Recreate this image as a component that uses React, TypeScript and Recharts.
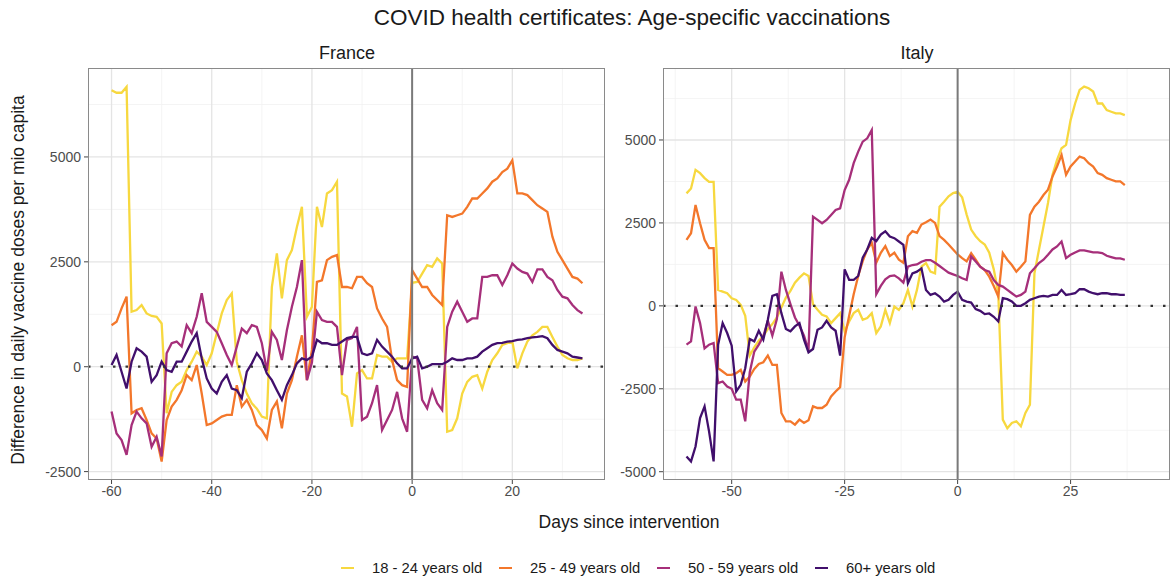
import React from 'react';
import { LineChart, Line, XAxis, YAxis, CartesianGrid, ReferenceLine } from 'recharts';

// France: days -60 .. 34
const FR_START = -60;
const FR_18_24 = [
  6590, 6530, 6530, 6670, 1310, 1350, 1470, 1270, 1210, 1190,
  1030, -1110, -600, -440, -360, -80, 120, 360, 240, 40,
  320, 800, 1270, 1590, 1750, 120, -320, -640, -870, -1000,
  -1190, -1230, 1900, 2700, 1630, 2540, 2780, 3330, 3810, 1190,
  1430, 3810, 3330, 4130, 4210, 4410, -640, -710, -1430, -160,
  -80, -280, -280, 280, 240, 240, 120, 200, 200, 200,
  2000, 2020, 2220, 2420, 2380, 2580, 2460, -1550, -1510, -1230,
  -640, -360, -240, -200, -520, -120, 160, 320, 520, 560,
  600, -40, 320, 600, 750, 830, 950, 950, 710, 480,
  280, 200, 160, 160, 200,
];
const FR_25_49 = [
  990, 1070, 1390, 1670, -1110, -1030, -990, -1270, -1590, -1710,
  -2260, -1270, -950, -790, -560, -200, -320, 40, -640, -1390,
  -1350, -1270, -1190, -1150, -1150, -440, -950, -790, -1030, -1390,
  -1510, -1710, -1030, -830, -1470, -640, -320, 240, 750, -320,
  400, 2020, 2060, 2540, 2620, 2660, 1900, 1900, 1870, 2140,
  2140, 1990, 1900, 1390, 1150, 950, 160, -320, -440, -480,
  2300, 2100, 1900, 1900, 1710, 1590, 1470, 3610, 3570, 3610,
  3650, 3810, 4010, 4010, 4130, 4250, 4410, 4490, 4640, 4720,
  4920, 4130, 4130, 4090, 3970, 3850, 3770, 3690, 3100, 2740,
  2540, 2340, 2140, 2100, 1990,
];
const FR_50_59 = [
  -1070, -1590, -1750, -2100, -1390, -1070, -1230, -1350, -1910, -1670,
  -2140, 320, 560, 600, 480, 990, 800, 1190, 1750, 1070,
  950, 830, 560, 280, 40, 480, 910, 800, 990, 950,
  560, -100, 830, 640, 160, 870, 1430, 1900, 2540, -320,
  100, 1310, 1110, 1070, 1070, 950, -200, 640, 680, 950,
  -1270, -1190, -870, -440, -1510, -1270, -1030, -600, -1230, -1550,
  240, 200, -790, -990, -560, -870, -1030, 950, 1310, 1550,
  1310, 1070, 1150, 1150, 2140, 2140, 2180, 2180, 1950, 2180,
  2460, 2340, 2260, 2220, 2020, 2320, 2320, 2140, 2060, 1830,
  1670, 1630, 1470, 1350, 1270,
];
const FR_60P = [
  40, 280, -120, -520, 120, 440, 360, 240, -360, -200,
  120, -80, -120, 120, 120, 360, 600, 800, 200, -280,
  -520, -640, -360, -200, -520, -560, -750, -120, 80, 320,
  160, -160, -320, -560, -790, -440, -200, 80, 200, 160,
  240, 640, 560, 560, 520, 520, 600, 680, 710, 710,
  320, 280, 320, 640, 480, 360, 240, 80, -40, -40,
  200, 240, -40, 0, 60, 60, 60, 120, 200, 160,
  160, 200, 200, 240, 360, 440, 520, 560, 570, 600,
  610, 640, 650, 680, 700, 710, 730, 680, 520, 400,
  360, 320, 240, 220, 200,
];

// Italy: days -60 .. 37
const IT_START = -60;
const IT_18_24 = [
  3390, 3540, 4100, 4000, 3850, 3740, 3740, 480, 430, 380,
  230, 180, 30, -300, -1500, -1250, -1050, -900, -700, -550,
  -350, -50, 250, 450, 700, 850, 980, 900, 50, -120,
  -270, -320, -520, -370, -220, -770, -470, -220, -120, -420,
  -370, -220, -820, -620, -120, -520, -20, -120, 80, 480,
  -20, 480, 1180, 1290, 1030, 980, 2990, 3140, 3300, 3400,
  3440, 3270, 2750, 2300, 2100, 1950, 1850, 1600, 1100, 380,
  -3430, -3690, -3530, -3480, -3630, -3230, -2980, 980, 1690, 2390,
  3100, 3950, 4400, 4750, 4850, 5600, 6100, 6510, 6610, 6560,
  6460, 6100, 6100, 5900, 5850, 5800, 5800, 5750,
];
const IT_25_49 = [
  1990, 2190, 3040, 2490, 1990, 1740, 1740, -1880, -1980, -2080,
  -2080, -2030, -1930, -2280, -2130, -1900, -1750, -1700, -1500, -1780,
  -1780, -3230, -3480, -3480, -3580, -3430, -3530, -3450, -3030, -3080,
  -3080, -2980, -2730, -2580, -2450, -950, -300, 350, 900, 1350,
  1700, 1900, 1300, 1600, 1800, 1500, 1600, 1390, 1300, 2100,
  2250, 2200, 2450, 2520, 2600, 2500, 2100, 1990, 1850, 1700,
  1550, 1440, 1340, 1590, 1390, 1180, 1080, 880, 600, 280,
  1590, 1390, 1230, 1030, 1180, 1340, 2740, 2990, 3140, 3340,
  3500, 3900, 4200, 4550, 3950, 4200, 4350, 4500, 4450, 4300,
  4200, 4000, 3950, 3850, 3800, 3750, 3750, 3640,
];
const IT_50_59 = [
  -1170, -1070, -20, -520, -1280, -1170, -1120, -2330, -2280, -2430,
  -2500, -2830, -2830, -3480, -2000, -1380, -1170, -920, -450, -900,
  -400, 1030, 480, 50, -350, -600, -900, -1350, 2690, 2590,
  2490, 2590, 2740, 2890, 2940, 3490, 3800, 4300, 4650, 4950,
  5050, 5300, 350, 600, 800, 900, 920, 830, 700, 1180,
  1230, 1250, 1330, 1380, 1380, 1300, 1200, 1100, 1000, 950,
  900, 830, 780, 1490, 1340, 1180, 1080, 1030, 780, 630,
  580, 480, 380, 280, 330, 430, 980, 1130, 1290, 1390,
  1540, 1700, 1790, 1940, 1440, 1540, 1610, 1670, 1670, 1640,
  1610, 1610, 1590, 1510, 1470, 1430, 1430, 1390,
];
const IT_60P = [
  -4540, -4690, -4240, -3380, -3030, -3790, -4690, -1170, -520, -820,
  -1200, -2580, -2380, -1880, -1000, -1070, -750, -1020, -420, 300,
  350, -220, -700, -770, -620, -520, -1020, -1400, -1300, -720,
  -650, -450, -650, -750, -1500, 1100, 780, 780, 900, 1450,
  1700, 2050, 1950, 2150, 2250, 2090, 2040, 1940, 1840, 680,
  980, 1030, 1130, 480, 330, 380, 280, 130, 180, 330,
  430, 180, 130, 100, -100, -150, -250, -230, -330, -470,
  230, 200, 130, 0, 0, 80, 180, 230, 280, 300,
  280, 330, 330, 480, 330, 350, 380, 500, 500, 430,
  380, 350, 380, 380, 350, 350, 330, 330,
];

const SERIES = ['18 - 24 years old', '25 - 49 years old', '50 - 59 years old', '60+ years old'];
const COLORS = ['#F7D83F', '#F3772B', '#A62F7A', '#410F6C'];

const FR_X_TICKS = [-60, -40, -20, 0, 20];
const FR_X_MINOR = [-50, -30, -10, 10, 30];
const FR_Y_TICKS = [-2500, 0, 2500, 5000];
const FR_Y_MINOR = [-1250, 1250, 3750, 6250];
const IT_X_TICKS = [-50, -25, 0, 25];
const IT_X_MINOR = [-62.5, -37.5, -12.5, 12.5, 37.5];
const IT_Y_TICKS = [-5000, -2500, 0, 2500, 5000];
const IT_Y_MINOR = [-3750, -1250, 1250, 3750, 6250];

const buildRows = (start: number, cols: number[][]) =>
  cols[0].map((_, i) => ({
    day: start + i,
    s0: cols[0][i],
    s1: cols[1][i],
    s2: cols[2][i],
    s3: cols[3][i],
  }));

const frRows = buildRows(FR_START, [FR_18_24, FR_25_49, FR_50_59, FR_60P]);
const itRows = buildRows(IT_START, [IT_18_24, IT_25_49, IT_50_59, IT_60P]);

const FONT = '"Liberation Sans", Arial, sans-serif';
const TICK = { fontSize: 14, fill: '#4d4d4d' };

type PanelProps = {
  rows: any[];
  left: number;
  width: number;
  plotLeft: number;
  plotRight: number;
  yAxisWidth: number;
  xDomain: number[];
  yDomain: number[];
  xTicks: number[];
  xMinor: number[];
  yTicks: number[];
  yMinor: number[];
};

const Panel = (p: PanelProps) => (
  <div style={{ position: 'absolute', left: p.left, top: 0 }}>
    <LineChart
      width={p.width}
      height={510}
      data={p.rows}
      margin={{ top: 68, right: p.width - (p.plotRight - p.left), bottom: 0, left: p.plotLeft - p.left - p.yAxisWidth }}
    >
      <CartesianGrid stroke="#f1f1f1" strokeWidth={0.8} horizontalValues={p.yMinor} verticalValues={p.xMinor} />
      <CartesianGrid stroke="#e4e4e4" strokeWidth={1.3} horizontalValues={p.yTicks} verticalValues={p.xTicks} />
      <XAxis
        type="number"
        dataKey="day"
        domain={p.xDomain}
        ticks={p.xTicks}
        allowDataOverflow
        height={30}
        axisLine={false}
        tickLine={{ stroke: '#444' }}
        tickSize={4}
        tickMargin={2}
        tick={TICK}
        interval={0}
      />
      <YAxis
        type="number"
        domain={p.yDomain}
        ticks={p.yTicks}
        allowDataOverflow
        width={p.yAxisWidth}
        axisLine={false}
        tickLine={{ stroke: '#444' }}
        tickSize={4}
        tickMargin={3}
        tick={TICK}
        interval={0}
      />
      {['s0', 's1', 's2', 's3'].map((k, i) => (
        <Line
          key={k}
          type="linear"
          dataKey={k}
          stroke={COLORS[i]}
          strokeWidth={2.3}
          dot={false}
          isAnimationActive={false}
        />
      ))}
      <ReferenceLine y={0} stroke="#333" strokeWidth={2.2} strokeDasharray="2.5 10" />
      <ReferenceLine x={0} stroke="#7a7a7a" strokeWidth={2} />
    </LineChart>
    <div
      style={{
        position: 'absolute',
        left: p.plotLeft - p.left,
        top: 68,
        width: p.plotRight - p.plotLeft,
        height: 412,
        border: '1.2px solid #8a8a8a',
        boxSizing: 'border-box',
        pointerEvents: 'none',
      }}
    />
  </div>
);

const centered = (x: number, y: number, size: number, text: string) => (
  <div
    style={{
      position: 'absolute',
      left: x,
      top: y,
      transform: 'translate(-50%, -50%)',
      fontSize: size,
      color: '#1a1a1a',
      whiteSpace: 'nowrap',
    }}
  >
    {text}
  </div>
);

const LEGEND_X = [341, 499, 657, 815];

export default function App() {
  return (
    <div
      style={{
        position: 'absolute',
        left: 0,
        top: 0,
        width: 1173,
        height: 580,
        background: '#fff',
        fontFamily: FONT,
        overflow: 'hidden',
      }}
    >
      {centered(632, 18, 22.5, 'COVID health certificates: Age-specific vaccinations')}
      {centered(347, 53, 18, 'France')}
      {centered(917, 53, 18, 'Italy')}
      <Panel
        rows={frRows}
        left={0}
        width={612}
        plotLeft={88}
        plotRight={605}
        yAxisWidth={40}
        xDomain={[-64.7, 38.5]}
        yDomain={[-2700, 7120]}
        xTicks={FR_X_TICKS}
        xMinor={FR_X_MINOR}
        yTicks={FR_Y_TICKS}
        yMinor={FR_Y_MINOR}
      />
      <Panel
        rows={itRows}
        left={612}
        width={561}
        plotLeft={663}
        plotRight={1170}
        yAxisWidth={45}
        xDomain={[-65.2, 47]}
        yDomain={[-5250, 7170]}
        xTicks={IT_X_TICKS}
        xMinor={IT_X_MINOR}
        yTicks={IT_Y_TICKS}
        yMinor={IT_Y_MINOR}
      />
      {centered(629, 522, 17.5, 'Days since intervention')}
      <div
        style={{
          position: 'absolute',
          left: 18,
          top: 280,
          transform: 'translate(-50%, -50%) rotate(-90deg)',
          fontSize: 17.5,
          color: '#1a1a1a',
          whiteSpace: 'nowrap',
        }}
      >
        Difference in daily vaccine doses per mio capita
      </div>
      {SERIES.map((s, i) => (
        <div
          key={s}
          style={{ position: 'absolute', left: LEGEND_X[i], top: 558, height: 20, display: 'flex', alignItems: 'center' }}
        >
          <div style={{ width: 13, height: 2.5, background: COLORS[i] }} />
          <div style={{ marginLeft: 18, fontSize: 14.8, color: '#1a1a1a', whiteSpace: 'nowrap' }}>{s}</div>
        </div>
      ))}
    </div>
  );
}
